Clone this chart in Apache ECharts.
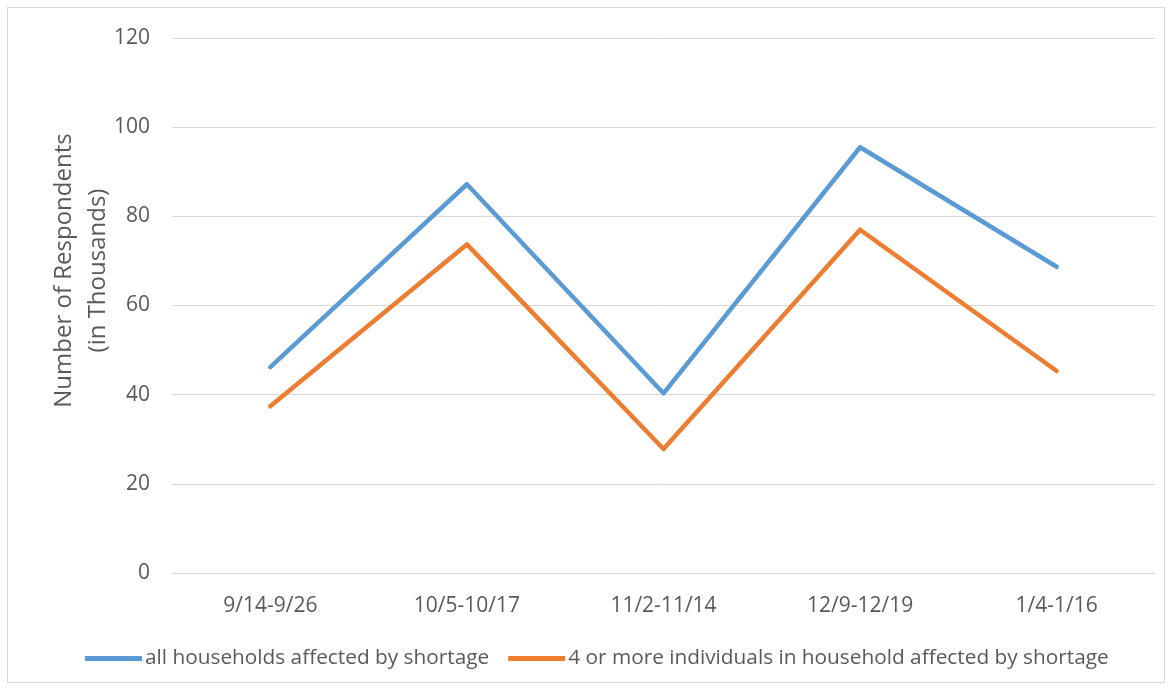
<!DOCTYPE html>
<html>
<head>
<meta charset="utf-8">
<script src="https://cdn.jsdelivr.net/npm/echarts@6/dist/echarts.min.js"></script>
<style>
    html, body { margin: 0; padding: 0; background: #fff; }
    #chart { width: 1173px; height: 690px; }
    .frame { position: absolute; left: 7px; top: 7px; width: 1158px; height: 676px; border: 1px solid #d9d9d9; box-sizing: border-box; pointer-events: none; }
</style>
</head>
<body>
<div id="chart"></div>
<div class="frame"></div>
<script>
    var periods = ['9/14-9/26', '10/5-10/17', '11/2-11/14', '12/9-12/19', '1/4-1/16'];
    var allHouseholds = [46.2, 87.2, 40.3, 95.5, 68.7];
    var fourOrMore = [37.4, 73.7, 27.8, 77.0, 45.3];
    var yTicks = { min: 0, max: 120, interval: 20 };

    var textColor = '#595959';
    var font = 'Open Sans';

    const myChart = echarts.init(document.getElementById('chart'));
    const option = {
        animation: false,
        grid: {
            left: 172,
            right: 18,
            top: 38,
            bottom: 117
        },
        legend: {
            bottom: 16,
            left: 80,
            icon: 'rect',
            itemWidth: 57,
            itemHeight: 5,
            itemGap: 19,
            textStyle: {
                color: textColor,
                fontFamily: font,
                fontSize: 20.8,
                padding: [0, 0, 0, -2]
            },
            data: ['all households affected by shortage', '4 or more individuals in household affected by shortage']
        },
        xAxis: {
            type: 'category',
            data: periods,
            axisLine: { lineStyle: { color: '#d9d9d9', width: 1 } },
            axisTick: { show: false },
            axisLabel: {
                color: textColor,
                fontFamily: font,
                fontSize: 21,
                margin: 23
            }
        },
        yAxis: {
            type: 'value',
            min: yTicks.min,
            max: yTicks.max,
            interval: yTicks.interval,
            name: 'Number of Respondents\n(in Thousands)',
            nameLocation: 'middle',
            nameGap: 57,
            nameMoveOverlap: false,
            nameTextStyle: {
                color: textColor,
                fontFamily: font,
                fontSize: 24,
                lineHeight: 34,
                padding: [0, 0, 0, 70]
            },
            axisLine: { show: false },
            axisTick: { show: false },
            axisLabel: {
                color: textColor,
                fontFamily: font,
                fontSize: 21,
                margin: 22
            },
            splitLine: { lineStyle: { color: '#d9d9d9', width: 1 } }
        },
        series: [
            {
                name: 'all households affected by shortage',
                type: 'line',
                data: allHouseholds,
                showSymbol: false,
                symbol: 'none',
                itemStyle: { color: '#5b9bd5' },
                lineStyle: { color: '#5b9bd5', width: 4.5, cap: 'round', join: 'round' }
            },
            {
                name: '4 or more individuals in household affected by shortage',
                type: 'line',
                data: fourOrMore,
                showSymbol: false,
                symbol: 'none',
                itemStyle: { color: '#ed7d31' },
                lineStyle: { color: '#ed7d31', width: 4.5, cap: 'round', join: 'round' }
            }
        ]
    };
    myChart.setOption(option);
</script>
</body>
</html>
